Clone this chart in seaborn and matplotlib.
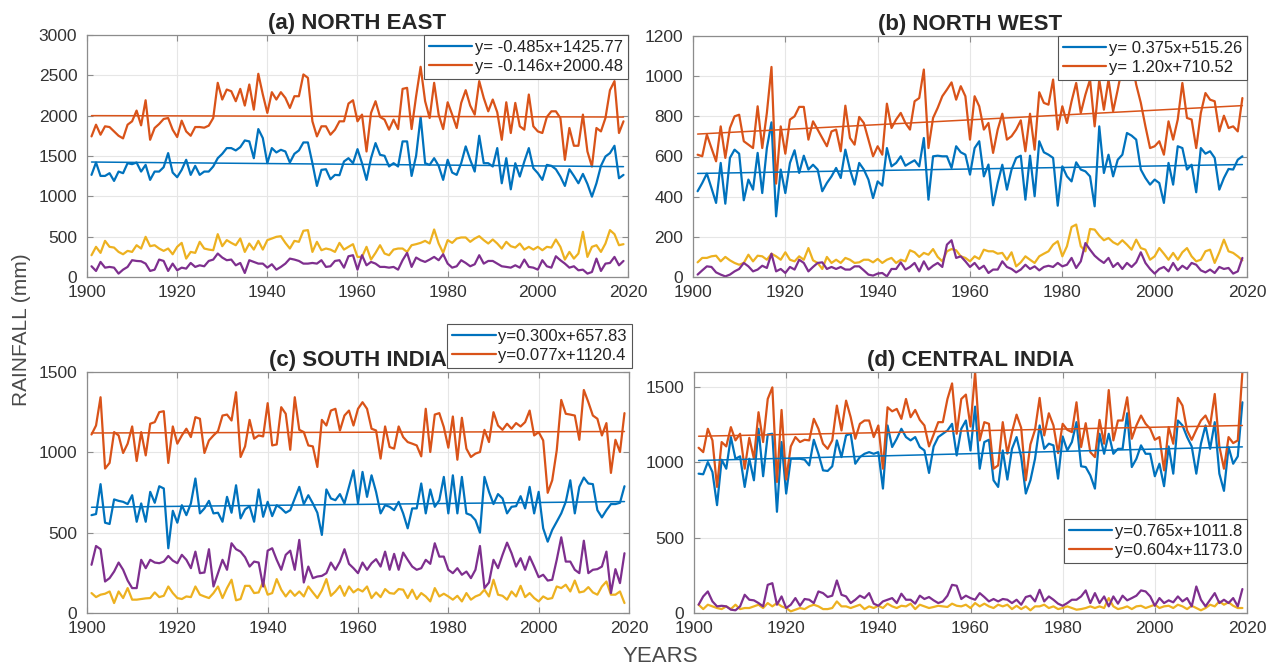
import numpy as np
import pandas as pd
import matplotlib
matplotlib.use("Agg")
import matplotlib.pyplot as plt
from matplotlib.lines import Line2D
import seaborn as sns

years = np.arange(1901, 2020)

# ---- North East (mm) ----
ne_annual = [
    1743, 1888, 1764, 1868, 1859, 1805, 1751, 1718, 1888, 1930,
    2063, 1880, 2191, 1701, 1847, 1897, 1959, 1971, 1826, 1735,
    1938, 1805, 1751, 1859, 1859, 1851, 1876, 1971, 2407, 2200,
    2324, 2303, 2179, 2332, 2125, 2386, 2075, 2519, 2262, 2034,
    2291, 2200, 2291, 2220, 2096, 2241, 2241, 2511, 2469, 1930,
    1743, 1868, 1868, 1764, 1826, 1930, 1930, 2150, 2191, 1930,
    2013, 1556, 2034, 2179, 1984, 1951, 1826, 1951, 1834, 2332,
    2345, 1834, 2241, 2606, 2179, 1971, 2407, 2013, 1834, 2166,
    2013, 1847, 2158, 2316, 2125, 2013, 2428, 2220, 2054, 2200,
    2042, 1701, 2166, 1785, 2158, 1868, 1826, 2262, 1868, 1805,
    1785, 1984, 2054, 2054, 1971, 1452, 1847, 1627, 1627, 2013,
    1556, 1369, 1847, 1805, 1971, 2316, 2428, 1785, 1930]
ne_monsoon = [
    1266, 1419, 1253, 1253, 1287, 1191, 1307, 1287, 1411, 1399,
    1419, 1307, 1390, 1204, 1307, 1307, 1361, 1536, 1295, 1237,
    1328, 1453, 1266, 1378, 1266, 1307, 1307, 1370, 1473, 1527,
    1598, 1598, 1569, 1610, 1693, 1681, 1473, 1834, 1722, 1411,
    1598, 1544, 1577, 1556, 1419, 1527, 1569, 1668, 1668, 1411,
    1129, 1328, 1336, 1212, 1266, 1262, 1432, 1473, 1411, 1585,
    1411, 1204, 1473, 1660, 1515, 1502, 1370, 1411, 1370, 1681,
    1681, 1253, 1502, 1984, 1411, 1390, 1473, 1378, 1204, 1453,
    1295, 1266, 1411, 1619, 1453, 1307, 1751, 1411, 1411, 1370,
    1598, 1162, 1473, 1087, 1411, 1245, 1432, 1598, 1349, 1287,
    1204, 1390, 1378, 1336, 1245, 1129, 1336, 1253, 1162, 1278,
    1154, 996, 1162, 1378, 1494, 1536, 1627, 1224, 1266]
ne_pre = [
    270, 374, 299, 448, 374, 365, 311, 282, 324, 311,
    394, 353, 498, 382, 394, 353, 324, 353, 282, 374,
    423, 228, 311, 299, 436, 353, 340, 332, 531, 382,
    457, 423, 394, 477, 311, 415, 340, 448, 340, 457,
    477, 498, 506, 423, 353, 448, 436, 573, 581, 311,
    436, 332, 353, 340, 311, 423, 340, 374, 407, 249,
    249, 374, 216, 299, 394, 291, 270, 340, 353, 353,
    311, 394, 407, 423, 448, 415, 589, 415, 299, 457,
    423, 477, 490, 490, 436, 477, 506, 457, 415, 465,
    415, 353, 436, 382, 365, 415, 340, 374, 340, 374,
    332, 374, 365, 465, 374, 216, 311, 228, 291, 560,
    249, 374, 394, 311, 415, 581, 531, 394, 407]
ne_post = [
    133, 75, 187, 116, 125, 116, 42, 91, 125, 208,
    199, 195, 166, 75, 91, 216, 199, 75, 166, 83,
    116, 104, 174, 125, 145, 133, 199, 216, 291, 241,
    208, 216, 145, 174, 50, 208, 187, 166, 166, 116,
    158, 91, 125, 166, 228, 216, 199, 166, 166, 174,
    166, 208, 125, 133, 199, 208, 116, 257, 270, 91,
    270, 145, 187, 166, 125, 125, 116, 125, 91, 208,
    299, 125, 241, 208, 187, 216, 249, 208, 282, 166,
    116, 133, 208, 174, 133, 158, 270, 166, 199, 199,
    166, 133, 125, 116, 145, 116, 216, 125, 116, 91,
    208, 133, 116, 257, 208, 166, 116, 133, 83, 91,
    42, 62, 228, 75, 166, 174, 249, 145, 199]

# ---- North West (mm) ----
nw_annual = [
    609, 601, 709, 642, 576, 750, 593, 742, 800, 808,
    676, 659, 642, 850, 642, 817, 1046, 465, 750, 614,
    784, 800, 847, 847, 684, 775, 734, 692, 651, 725,
    734, 626, 853, 692, 659, 797, 767, 684, 601, 651,
    609, 863, 742, 784, 817, 767, 734, 875, 891, 1033,
    642, 792, 842, 900, 933, 969, 883, 950, 900, 684,
    900, 850, 734, 767, 618, 734, 813, 684, 701, 734,
    780, 626, 813, 634, 920, 867, 858, 983, 734, 850,
    767, 875, 966, 817, 908, 983, 750, 983, 833, 983,
    825, 933, 1050, 1000, 1080, 958, 867, 750, 642, 651,
    676, 609, 775, 684, 784, 966, 792, 784, 642, 817,
    916, 883, 875, 725, 803, 742, 750, 725, 891]
nw_monsoon = [
    427, 468, 515, 443, 369, 568, 365, 593, 634, 614,
    382, 485, 435, 618, 418, 642, 770, 302, 535, 418,
    568, 631, 518, 604, 535, 559, 535, 427, 468, 501,
    543, 493, 634, 535, 460, 568, 535, 485, 393, 476,
    455, 642, 551, 568, 601, 554, 568, 581, 551, 692,
    385, 601, 604, 601, 601, 543, 651, 621, 609, 510,
    642, 676, 501, 560, 357, 468, 559, 435, 535, 593,
    604, 385, 604, 402, 676, 621, 609, 593, 355, 551,
    501, 476, 571, 535, 526, 501, 352, 750, 518, 609,
    501, 584, 609, 717, 704, 684, 535, 493, 460, 485,
    468, 369, 568, 460, 651, 642, 535, 559, 422, 642,
    614, 626, 593, 435, 493, 538, 535, 584, 601]
nw_pre = [
    73, 95, 95, 103, 106, 78, 100, 83, 70, 61,
    70, 111, 78, 106, 103, 86, 116, 103, 86, 123,
    86, 78, 103, 86, 144, 83, 70, 40, 100, 70,
    86, 70, 95, 86, 70, 73, 86, 86, 73, 90,
    70, 86, 95, 70, 86, 78, 133, 123, 100, 120,
    111, 139, 100, 78, 128, 139, 133, 103, 95, 78,
    103, 90, 136, 128, 128, 116, 120, 86, 123, 53,
    73, 103, 86, 70, 103, 116, 128, 161, 178, 103,
    153, 249, 261, 153, 128, 239, 236, 206, 183, 194,
    173, 161, 183, 161, 136, 186, 144, 136, 86, 103,
    144, 116, 86, 120, 86, 123, 144, 103, 78, 86,
    128, 136, 70, 123, 186, 128, 120, 103, 83]
nw_post = [
    12, 33, 53, 50, 23, 12, 3, 12, 28, 40,
    70, 53, 28, 37, 56, 45, 116, 28, 40, 20,
    50, 37, 86, 70, 28, 50, 70, 73, 40, 50,
    40, 50, 37, 37, 53, 53, 33, 12, 7, 17,
    20, 3, 40, 40, 73, 37, 50, 70, 28, 78,
    37, 56, 70, 50, 161, 183, 95, 103, 78, 50,
    70, 40, 56, 20, 37, 37, 78, 50, 40, 23,
    37, 61, 40, 53, 33, 50, 56, 50, 70, 53,
    61, 95, 45, 78, 169, 136, 106, 86, 70, 95,
    50, 70, 40, 70, 50, 73, 123, 70, 40, 17,
    40, 50, 28, 70, 33, 56, 40, 70, 61, 33,
    23, 37, 20, 50, 40, 45, 17, 28, 95]

# ---- South India (mm) ----
si_annual = [
    1111, 1167, 1343, 899, 934, 1126, 1105, 996, 1054, 1161,
    946, 1126, 981, 1178, 1188, 1250, 1256, 934, 1161, 1054,
    1105, 1147, 1095, 1219, 1209, 996, 1074, 1105, 1132, 1229,
    1235, 1198, 1374, 971, 1037, 1202, 1085, 1105, 1099, 1306,
    1043, 1049, 1281, 1240, 1016, 1343, 1140, 1126, 1043, 1037,
    909, 1202, 1167, 1260, 1271, 1136, 1229, 1260, 1167, 1271,
    1312, 1271, 1147, 1136, 961, 1161, 1033, 1023, 1161, 1095,
    1064, 1054, 1043, 975, 1271, 1002, 1235, 1244, 1157, 1029,
    1223, 954, 1215, 1023, 971, 992, 1002, 1140, 1064, 1250,
    1167, 1140, 1178, 1147, 1182, 1161, 1188, 1260, 1105, 1126,
    1074, 748, 826, 1012, 1326, 1240, 1235, 1229, 1078, 1388,
    1312, 1229, 1209, 1105, 1182, 872, 1078, 1002, 1244]
si_monsoon = [
    609, 616, 802, 562, 554, 707, 698, 692, 678, 733,
    568, 682, 568, 754, 686, 789, 775, 403, 636, 562,
    671, 609, 682, 837, 620, 651, 698, 620, 624, 568,
    723, 624, 795, 589, 645, 665, 568, 769, 599, 692,
    603, 671, 651, 624, 640, 713, 785, 678, 733, 682,
    624, 486, 769, 713, 702, 740, 682, 785, 888, 682,
    878, 723, 857, 754, 620, 671, 661, 640, 692, 620,
    527, 651, 651, 806, 620, 769, 661, 702, 847, 620,
    857, 620, 847, 620, 609, 578, 500, 847, 754, 678,
    740, 713, 620, 661, 665, 727, 651, 785, 620, 754,
    527, 444, 517, 568, 620, 692, 826, 620, 785, 843,
    806, 802, 640, 595, 640, 678, 678, 686, 789]
si_pre = [
    124, 99, 114, 120, 134, 62, 134, 93, 155, 83,
    83, 87, 91, 93, 128, 99, 107, 165, 124, 93,
    87, 103, 99, 165, 114, 103, 93, 124, 165, 93,
    155, 207, 79, 87, 169, 169, 124, 128, 196, 114,
    124, 211, 145, 103, 140, 107, 134, 103, 165, 128,
    93, 140, 211, 107, 134, 169, 107, 165, 128, 149,
    134, 165, 93, 128, 99, 149, 124, 120, 149, 145,
    93, 145, 87, 124, 103, 72, 155, 103, 120, 103,
    83, 107, 72, 124, 83, 103, 114, 145, 103, 207,
    114, 107, 83, 134, 103, 169, 99, 124, 93, 72,
    103, 87, 93, 165, 155, 176, 134, 202, 128, 134,
    161, 128, 114, 165, 196, 114, 114, 134, 62]
si_post = [
    300, 417, 397, 196, 217, 258, 314, 269, 202, 155,
    155, 331, 279, 331, 314, 310, 320, 355, 326, 310,
    362, 331, 279, 382, 248, 252, 397, 165, 248, 331,
    269, 434, 397, 382, 347, 289, 320, 314, 165, 388,
    403, 331, 269, 362, 388, 269, 455, 190, 289, 217,
    227, 231, 248, 314, 269, 320, 397, 306, 279, 248,
    314, 269, 310, 335, 289, 382, 269, 368, 269, 376,
    331, 289, 269, 279, 331, 306, 434, 351, 351, 269,
    248, 279, 238, 258, 217, 269, 417, 155, 190, 331,
    279, 362, 438, 372, 289, 341, 269, 351, 289, 223,
    238, 202, 207, 331, 471, 320, 320, 269, 248, 450,
    248, 269, 273, 289, 382, 124, 273, 186, 372]

# ---- Central India (mm) ----
ci_annual = [
    1097, 1068, 1223, 1146, 837, 1135, 1106, 1234, 1146, 1190,
    958, 1163, 1024, 1333, 1135, 1421, 1498, 870, 1348, 886,
    1106, 1168, 1135, 1150, 1146, 1289, 1223, 1124, 1090, 1146,
    1377, 1212, 1410, 1300, 1157, 1256, 1278, 1278, 1168, 1245,
    958, 1366, 1339, 1355, 1289, 1421, 1300, 1348, 1282, 1245,
    1106, 1185, 1267, 1267, 1421, 1524, 1190, 1421, 1450, 1238,
    1597, 1146, 1267, 1256, 958, 980, 1267, 1058, 1201, 1317,
    1229, 881, 1119, 1216, 1428, 1179, 1326, 1245, 1062, 1256,
    1216, 1201, 1399, 1102, 1260, 1068, 1035, 1282, 1124, 1480,
    1146, 1278, 1278, 1432, 1157, 1245, 1311, 1256, 1223, 1150,
    1168, 947, 1234, 1124, 1428, 1377, 1212, 1150, 1216, 1278,
    1311, 1245, 1454, 1106, 958, 1168, 1128, 1146, 1600]
ci_monsoon = [
    925, 921, 1002, 936, 716, 1018, 958, 1168, 1024, 1040,
    837, 1024, 881, 1223, 908, 1185, 1190, 672, 1135, 793,
    1024, 1024, 1024, 1018, 980, 1150, 1057, 947, 943, 974,
    1146, 1035, 1179, 1190, 991, 1035, 1057, 1068, 1057, 1068,
    826, 1245, 1102, 1157, 1223, 1168, 1146, 1168, 1102, 1079,
    930, 1106, 1168, 1190, 1212, 1256, 1046, 1223, 1278, 1079,
    1370, 958, 1135, 1150, 881, 837, 1079, 886, 1090, 1168,
    1035, 793, 881, 1024, 1245, 1090, 1124, 1113, 892, 1172,
    1079, 1135, 1267, 974, 969, 914, 826, 1190, 1057, 1190,
    1057, 1090, 1090, 1326, 969, 1024, 1113, 1057, 1057, 908,
    991, 842, 1106, 925, 1278, 1245, 1168, 1106, 925, 1124,
    1245, 1090, 1267, 925, 811, 1102, 991, 1040, 1399]
ci_pre = [
    55, 26, 55, 44, 33, 26, 44, 26, 55, 26,
    33, 33, 44, 55, 33, 66, 44, 66, 44, 33,
    11, 22, 33, 26, 44, 55, 44, 26, 26, 33,
    77, 44, 44, 33, 44, 55, 26, 44, 33, 48,
    33, 62, 44, 33, 48, 44, 62, 26, 55, 44,
    33, 40, 48, 44, 40, 62, 48, 44, 55, 33,
    66, 44, 62, 44, 33, 55, 44, 55, 26, 48,
    26, 44, 18, 44, 44, 55, 33, 44, 26, 33,
    44, 33, 22, 26, 33, 44, 33, 44, 33, 99,
    44, 26, 33, 44, 26, 44, 48, 33, 44, 55,
    33, 44, 48, 33, 55, 44, 26, 48, 33, 18,
    33, 55, 44, 77, 55, 71, 48, 33, 33]
ci_post = [
    55, 110, 143, 77, 44, 48, 44, 22, 18, 44,
    121, 88, 84, 66, 44, 187, 198, 55, 110, 33,
    55, 99, 48, 93, 88, 66, 143, 132, 106, 115,
    216, 121, 110, 66, 88, 115, 99, 132, 62, 48,
    77, 88, 99, 66, 128, 88, 88, 62, 115, 93,
    106, 84, 66, 77, 115, 187, 181, 93, 115, 99,
    88, 132, 106, 77, 93, 77, 93, 88, 66, 88,
    55, 106, 115, 77, 154, 77, 110, 88, 62, 48,
    66, 88, 88, 110, 150, 66, 132, 66, 110, 44,
    110, 62, 115, 84, 99, 115, 150, 143, 110, 48,
    99, 66, 84, 71, 110, 77, 99, 44, 176, 88,
    44, 88, 132, 66, 88, 66, 99, 44, 159]

# Linear trends (x = years since 1900): (slope, intercept, legend text)
ne_trends = [(-0.485, 1425.77, "y= -0.485x+1425.77"), (-0.146, 2000.48, "y= -0.146x+2000.48")]
nw_trends = [(0.375, 515.26, "y= 0.375x+515.26"), (1.20, 710.52, "y= 1.20x+710.52")]
si_trends = [(0.300, 657.83, "y=0.300x+657.83"), (0.077, 1120.4, "y=0.077x+1120.4")]
ci_trends = [(0.765, 1011.8, "y=0.765x+1011.8"), (0.604, 1173.0, "y=0.604x+1173.0")]

titles = ["(a) NORTH EAST", "(b) NORTH WEST", "(c) SOUTH INDIA", "(d) CENTRAL INDIA"]
y_limits = [(0, 3000), (0, 1200), (0, 1500), (0, 1600)]
y_ticks = [np.arange(0, 3001, 500), np.arange(0, 1201, 200),
           np.arange(0, 1501, 500), np.arange(0, 1501, 500)]
x_ticks = np.arange(1900, 2021, 20)

C_BLUE, C_ORANGE, C_YELLOW, C_PURPLE = "#0072BD", "#D95319", "#EDB120", "#7E2F8E"

sns.set_theme(style="whitegrid")
plt.rcParams["font.family"] = ["Liberation Sans Narrow", "Liberation Sans", "DejaVu Sans"]

fig = plt.figure(figsize=(12.73, 6.70), dpi=100)
W, H = 1273, 670
boxes = [(87, 35, 628, 277), (693, 36, 1247, 277), (87, 372, 629, 613), (694, 372, 1247, 613)]
axes = [fig.add_axes([l / W, 1 - b / H, (r - l) / W, (b - t) / H]) for (l, t, r, b) in boxes]

regions = [
    (ne_monsoon, ne_annual, ne_pre, ne_post, ne_trends),
    (nw_monsoon, nw_annual, nw_pre, nw_post, nw_trends),
    (si_monsoon, si_annual, si_pre, si_post, si_trends),
    (ci_monsoon, ci_annual, ci_pre, ci_post, ci_trends),
]

for i, (ax, (mon, ann, pre, post, trends)) in enumerate(zip(axes, regions)):
    df = pd.DataFrame({"year": years, "monsoon": mon, "annual": ann,
                       "pre": pre, "post": post})
    for col, c in [("pre", C_YELLOW), ("post", C_PURPLE),
                   ("monsoon", C_BLUE), ("annual", C_ORANGE)]:
        sns.lineplot(data=df, x="year", y=col, ax=ax, color=c, linewidth=1.6)
    handles = []
    for (slope, icpt, txt), c in zip(trends, [C_BLUE, C_ORANGE]):
        trend = slope * (years - 1900) + icpt
        sns.lineplot(x=years, y=trend, ax=ax, color=c, linewidth=1.1)
        handles.append(Line2D([], [], color=c, linewidth=1.6, label=txt))

    ax.set_xlim(1900, 2020)
    ax.set_ylim(*y_limits[i])
    ax.set_xticks(x_ticks)
    ax.set_yticks(y_ticks[i])
    ax.set_xlabel("")
    ax.set_ylabel("")
    ax.grid(True, color="#e6e6e6", linewidth=0.8)
    ax.set_facecolor("white")
    for sp in ax.spines.values():
        sp.set_visible(True)
        sp.set_color("#8c8c8c")
        sp.set_linewidth(0.9)
    ax.tick_params(axis="both", direction="in", length=4, width=0.8,
                   color="#8c8c8c", labelsize=12.5, labelcolor="#333333",
                   top=True, right=True, bottom=True, left=True)
    ax.tick_params(axis="x", pad=6)
    ax.tick_params(axis="y", pad=7)
    ax.set_title(titles[i], fontsize=16, fontweight="bold",
                 family=["Liberation Sans", "DejaVu Sans"], pad=4)

    leg_kw = dict(handles=handles, fontsize=12, frameon=True, fancybox=False,
                  framealpha=1, edgecolor="#555555", handlelength=2.6,
                  handletextpad=0.15, borderpad=0.3, labelspacing=0.25,
                  borderaxespad=0.0)
    if i in (0, 1):
        leg = ax.legend(loc="upper right", bbox_to_anchor=(1.0, 1.0), **leg_kw)
    elif i == 2:
        leg = ax.legend(loc="lower right", bbox_to_anchor=(1.005, 1.017), **leg_kw)
    else:
        leg = ax.legend(loc="lower right", bbox_to_anchor=(1.0, 0.207), **leg_kw)
    leg.get_frame().set_linewidth(0.8)
    for t in leg.get_texts():
        t.set_color("#222222")

fig.text(22 / W, 1 - 330 / H, "RAINFALL (mm)", rotation=90, ha="center", va="center",
         fontsize=15, color="#4a4a4a")
fig.text(660 / W, 1 - 656 / H, "YEARS", ha="center", va="center",
         fontsize=16, color="#4a4a4a")

fig.savefig("out.png", dpi=100, facecolor="white")
